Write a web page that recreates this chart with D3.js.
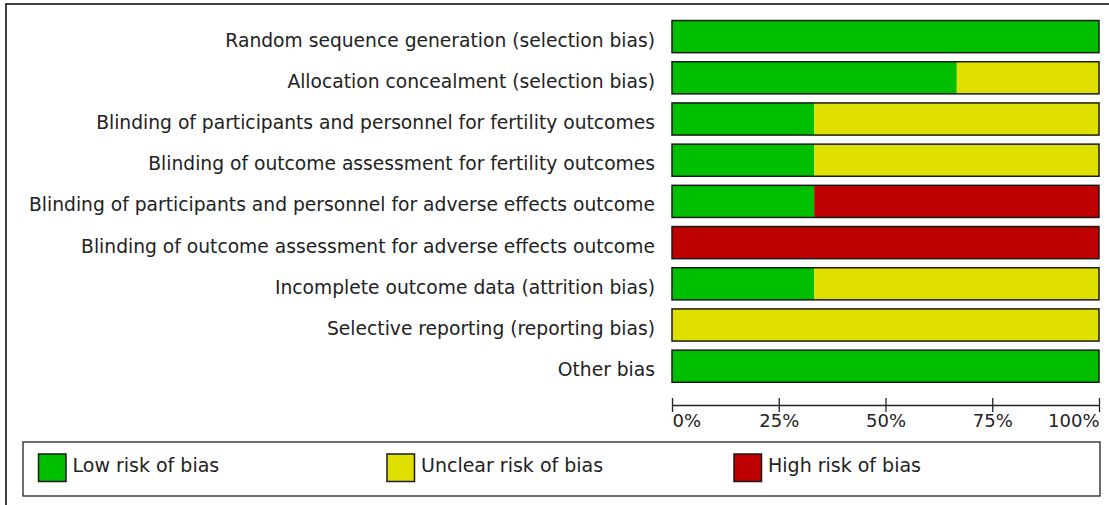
<!DOCTYPE html>
<html>
<head>
<meta charset="utf-8">
<script src="https://cdn.jsdelivr.net/npm/d3@7"></script>
<style>
  body { margin: 0; background: #fff; }
  svg { display: block; }
</style>
</head>
<body>
<svg width="1109" height="505"></svg>
<script>
// risk of bias domains, top to bottom
var domains = [
    "Random sequence generation (selection bias)",
    "Allocation concealment (selection bias)",
    "Blinding of participants and personnel for fertility outcomes",
    "Blinding of outcome assessment for fertility outcomes",
    "Blinding of participants and personnel for adverse effects outcome",
    "Blinding of outcome assessment for adverse effects outcome",
    "Incomplete outcome data (attrition bias)",
    "Selective reporting (reporting bias)",
    "Other bias"
];
// percent of studies per judgement
var low     = [100, 66.7, 33.3, 33.3, 33.3, 0,   33.3, 0,   100];
var unclear = [0,   33.3, 66.7, 66.7, 0,    0,   66.7, 100, 0];
var high    = [0,   0,    0,    0,    66.7, 100, 0,    0,   0];
var tickValues = [0, 25, 50, 75, 100];
var keys = ["low", "unclear", "high"];
var keyLabels = ["Low risk of bias", "Unclear risk of bias", "High risk of bias"];

var data = [];
for (var i = 0; i < domains.length; i++) {
    data.push({name: domains[i], low: low[i], unclear: unclear[i], high: high[i]});
}

var svg = d3.select("svg");
var font = "'DejaVu Sans', Verdana, sans-serif";

// outer frame (runs off the right and bottom edges)
svg.append("rect")
    .attr("x", 6).attr("y", 4)
    .attr("width", 1200).attr("height", 600)
    .attr("fill", "none")
    .attr("stroke", "#111")
    .attr("stroke-width", 1.6);

var x = d3.scaleLinear().domain([0, 100]).range([672, 1099]);
var y = d3.scaleBand()
    .domain(domains)
    .range([16, 386.8])
    .paddingInner(0.22)
    .paddingOuter(0.11);
var z = d3.scaleOrdinal().domain(keys).range(["#00bf00", "#e0e000", "#bf0000"]);

var series = d3.stack().keys(keys)(data);

svg.append("g").selectAll("g")
    .data(series)
    .enter().append("g")
    .attr("fill", function (d) { return z(d.key); })
    .selectAll("rect")
    .data(function (d) { return d.filter(function (p) { return p[1] - p[0] > 0; }); })
    .enter().append("rect")
    .attr("x", function (d) { return x(d[0]); })
    .attr("y", function (d) { return y(d.data.name); })
    .attr("width", function (d) { return x(d[1]) - x(d[0]); })
    .attr("height", y.bandwidth());

// bar outlines
svg.append("g").selectAll("rect")
    .data(data)
    .enter().append("rect")
    .attr("x", x(0))
    .attr("y", function (d) { return y(d.name); })
    .attr("width", x(100) - x(0))
    .attr("height", y.bandwidth())
    .attr("fill", "none")
    .attr("stroke", "#1a1a1a")
    .attr("stroke-width", 1.5);

// category labels
svg.append("g").selectAll("text")
    .data(domains)
    .enter().append("text")
    .attr("x", 655)
    .attr("y", function (d) { return y(d) + y.bandwidth() / 2 + 10; })
    .attr("text-anchor", "end")
    .style("font", "18.7px " + font)
    .attr("fill", "#222")
    .text(function (d) { return d; });

// axis
var axis = svg.append("g")
    .attr("transform", "translate(0,405)")
    .call(d3.axisBottom(x).tickValues(tickValues).tickSize(7).tickSizeOuter(0)
        .tickFormat(function (d) { return d + "%"; }));
axis.select(".domain").attr("stroke", "#222").attr("stroke-width", 1.3);
axis.selectAll(".tick line").attr("y1", -7).attr("stroke", "#222").attr("stroke-width", 1.3);
axis.selectAll(".tick text")
    .attr("y", 22)
    .attr("dy", null)
    .style("font", "18px " + font)
    .attr("fill", "#222")
    .attr("text-anchor", function (d) { return d === 0 ? "start" : d === 100 ? "end" : "middle"; });

// legend
var legend = svg.append("g");
legend.append("rect")
    .attr("x", 23).attr("y", 442)
    .attr("width", 1077).attr("height", 54)
    .attr("fill", "none")
    .attr("stroke", "#222")
    .attr("stroke-width", 1.3);

var legendX = [38.5, 387, 734];
var item = legend.selectAll(".item")
    .data(keys)
    .enter().append("g")
    .attr("class", "item")
    .attr("transform", function (d, i) { return "translate(" + legendX[i] + ",454)"; });
item.append("rect")
    .attr("width", 27.5).attr("height", 27.5)
    .attr("fill", z)
    .attr("stroke", "#1a1a1a")
    .attr("stroke-width", 1.5);
item.append("text")
    .attr("x", 34)
    .attr("y", 18)
    .style("font", "19px " + font)
    .attr("fill", "#222")
    .text(function (d, i) { return keyLabels[i]; });
</script>
</body>
</html>
